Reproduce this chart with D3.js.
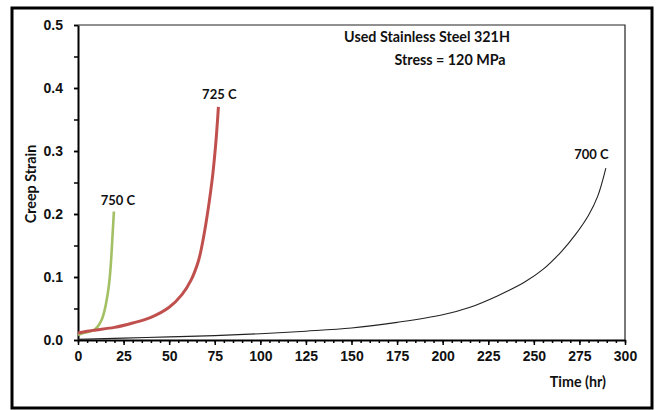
<!DOCTYPE html>
<html>
<head>
<meta charset="utf-8">
<script src="https://cdn.jsdelivr.net/npm/d3@7"></script>
<style>
  body { margin: 0; background: #fff; }
  svg { display: block; font-family: Lato, "Open Sans", sans-serif; font-weight: bold; }
  .axis text { font-size: 14px; font-weight: bold; fill: #111; }
  .axis path, .axis line { stroke: #000; }
</style>
</head>
<body>
<svg id="chart" width="657" height="410"></svg>
<script>
// creep curves: time in hours, strain
const time750 = [0, 3, 6, 9, 11, 13, 14.5, 15.7, 17, 17.9, 19, 19.7];
const strain750 = [0.008, 0.011, 0.013, 0.016, 0.022, 0.032, 0.046, 0.063, 0.088, 0.116, 0.169, 0.204];

const time725 = [0, 5, 10, 20, 30, 40, 50, 57, 62, 66, 68, 70, 72, 74, 75.5, 76.5, 77];
const strain725 = [0.011, 0.014, 0.016, 0.020, 0.027, 0.036, 0.052, 0.072, 0.095, 0.125, 0.150, 0.182, 0.220, 0.265, 0.310, 0.348, 0.370];

const time700 = [0, 25, 50, 75, 100, 125, 150, 175, 200, 215, 230, 245, 255, 265, 273, 280, 285, 289.5];
const strain700 = [0.001, 0.003, 0.005, 0.007, 0.010, 0.014, 0.019, 0.028, 0.040, 0.052, 0.070, 0.092, 0.112, 0.140, 0.168, 0.198, 0.228, 0.273];

const seriesNames = ['750 C', '725 C', '700 C'];
const xTickLabels = [0, 25, 50, 75, 100, 125, 150, 175, 200, 225, 250, 275, 300];
const yTickLabels = [0, 0.1, 0.2, 0.3, 0.4, 0.5];

const svg = d3.select('#chart');
const margin = { left: 78, right: 32, top: 25, bottom: 70 };
const width = 657 - margin.left - margin.right;
const height = 410 - margin.top - margin.bottom;

// outer frame
svg.append('rect')
  .attr('x', 12).attr('y', 8)
  .attr('width', 640).attr('height', 400)
  .attr('fill', 'none').attr('stroke', '#000').attr('stroke-width', 3);

const g = svg.append('g').attr('transform', `translate(${margin.left},${margin.top})`);

const x = d3.scaleLinear().domain([0, 300]).range([0, width]);
const y = d3.scaleLinear().domain([0, 0.5]).range([height, 0]);

// thin top and right border of the plot area
g.append('path')
  .attr('d', `M0,0H${width}V${height}`)
  .attr('fill', 'none').attr('stroke', '#222').attr('stroke-width', 1.2);

// minor ticks
g.append('g')
  .attr('class', 'axis')
  .attr('transform', `translate(0,${height})`)
  .call(d3.axisBottom(x).tickValues(d3.range(0, 301, 5)).tickSize(3).tickFormat(''))
  .call(a => a.select('.domain').remove())
  .selectAll('line').attr('stroke-width', 1.5);

g.append('g')
  .attr('class', 'axis')
  .call(d3.axisLeft(y).tickValues(d3.range(0, 0.51, 0.05)).tickSize(4).tickFormat(''))
  .call(a => a.select('.domain').remove())
  .selectAll('line').attr('stroke-width', 1.5);

// major axes
const xAxis = g.append('g')
  .attr('class', 'axis')
  .attr('transform', `translate(0,${height})`)
  .call(d3.axisBottom(x).tickValues(xTickLabels).tickSize(5).tickSizeOuter(0).tickPadding(6));
xAxis.select('.domain').attr('stroke-width', 2);
xAxis.selectAll('line').attr('stroke-width', 1.5);

const yAxis = g.append('g')
  .attr('class', 'axis')
  .call(d3.axisLeft(y).tickValues(yTickLabels).tickSize(4).tickSizeOuter(0).tickPadding(11).tickFormat(d3.format('.1f')));
yAxis.select('.domain').attr('stroke-width', 2);
yAxis.selectAll('line').attr('stroke-width', 1.5);

// curves
const line = d3.line()
  .x(d => x(d[0]))
  .y(d => y(d[1]))
  .curve(d3.curveCatmullRom.alpha(0.5));

const series = [
  { name: seriesNames[0], t: time750, s: strain750, color: '#a3c064', w: 2.6 },
  { name: seriesNames[1], t: time725, s: strain725, color: '#c0504d', w: 3 },
  { name: seriesNames[2], t: time700, s: strain700, color: '#222', w: 1.1 }
];

series.forEach(sr => {
  g.append('path')
    .datum(d3.zip(sr.t, sr.s))
    .attr('fill', 'none')
    .attr('stroke', sr.color)
    .attr('stroke-width', sr.w)
    .attr('d', line);
});

// curve labels
const labelPos = [
  { t: 21.9, s: 0.215, anchor: 'middle' },
  { t: 77.5, s: 0.383, anchor: 'middle' },
  { t: 291, s: 0.287, anchor: 'end' }
];
labelPos.forEach((p, i) => {
  g.append('text')
    .attr('x', x(p.t))
    .attr('y', y(p.s))
    .attr('text-anchor', p.anchor)
    .attr('font-size', 13)
    .attr('fill', '#111')
    .text(seriesNames[i]);
});

// titles
svg.append('text')
  .attr('x', 427).attr('y', 42)
  .attr('text-anchor', 'middle')
  .attr('font-size', 14.3)
  .attr('fill', '#111')
  .text('Used Stainless Steel 321H');

svg.append('text')
  .attr('x', 450).attr('y', 65)
  .attr('text-anchor', 'middle')
  .attr('font-size', 14.3)
  .attr('fill', '#111')
  .text('Stress = 120 MPa');

svg.append('text')
  .attr('transform', 'translate(36,184) rotate(-90)')
  .attr('text-anchor', 'middle')
  .attr('font-size', 14.3)
  .attr('fill', '#111')
  .text('Creep  Strain');

svg.append('text')
  .attr('x', 606).attr('y', 387)
  .attr('text-anchor', 'end')
  .attr('font-size', 14.3)
  .attr('fill', '#111')
  .text('Time (hr)');
</script>
</body>
</html>
